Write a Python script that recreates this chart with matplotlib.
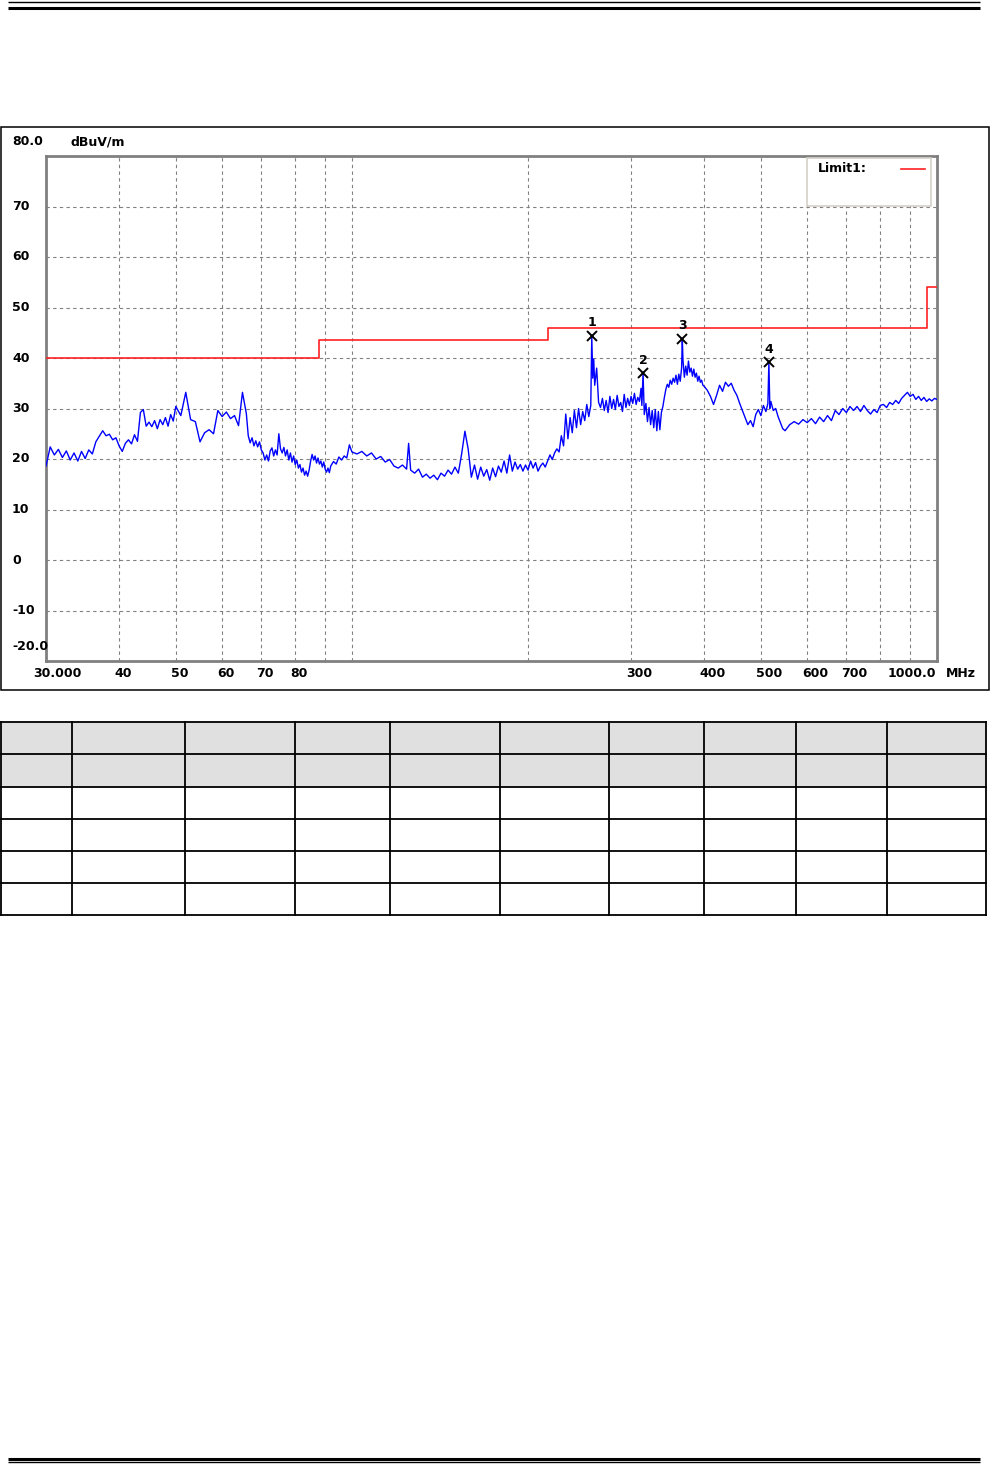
import matplotlib
matplotlib.use('Agg')
import matplotlib.pyplot as plt
import matplotlib.transforms as mtransforms
from matplotlib.patches import Rectangle
from matplotlib.ticker import NullLocator

sweep_30_50 = [(30.0, 18.6), (30.5, 22.4), (31.0, 20.8), (31.5, 21.9), (32.0, 20.3),
               (32.5, 21.6), (33.0, 19.8), (33.5, 21.2), (34.0, 19.6), (34.5, 21.5),
               (35.0, 20.1), (35.5, 21.8), (36.0, 21.0), (36.5, 23.4), (37.0, 24.5),
               (37.5, 25.6), (38.0, 24.6), (38.5, 24.9), (39.0, 23.8), (39.5, 24.2),
               (40.0, 22.6), (40.5, 21.5), (41.0, 23.1), (41.5, 23.8), (42.0, 23.0),
               (42.5, 24.8), (43.0, 23.5), (43.5, 29.2), (44.0, 29.8), (44.5, 26.5),
               (45.0, 27.3), (45.5, 26.4), (46.0, 27.6), (46.5, 26.0), (47.0, 27.8),
               (47.5, 26.8), (48.0, 28.2), (48.5, 26.5), (49.0, 28.8), (49.5, 27.5),
               (50.0, 30.4)]
sweep_50_100 = [(51, 28.6), (52, 33.2), (53, 27.8), (54, 27.4), (55, 23.4),
                (56, 25.2), (57, 25.8), (58, 25.0), (59, 29.6), (60, 28.4),
                (61, 29.3), (62, 28.0), (63, 28.6), (64, 26.6), (65, 33.2),
                (66, 29.0), (66.5, 24.6), (67, 23.2), (67.5, 24.2), (68, 22.6),
                (68.5, 23.6), (69, 22.4), (69.5, 23.4), (70, 21.8), (70.5, 21.2),
                (71, 19.8), (71.5, 20.8), (72, 19.6), (72.5, 21.6), (73, 22.2),
                (73.5, 20.6), (74, 21.8), (74.5, 20.8), (75, 25.0), (75.5, 22.0),
                (76, 21.2), (76.5, 22.3), (77, 20.6), (77.5, 21.8), (78, 19.8),
                (78.5, 21.2), (79, 19.4), (79.5, 20.6), (80, 18.9), (80.5, 19.8),
                (81, 18.2), (81.5, 18.9), (82, 17.4), (82.5, 18.2), (83, 16.8),
                (83.5, 17.6), (84, 16.6), (84.5, 17.8), (85, 19.6), (85.5, 20.9),
                (86, 19.8), (86.5, 20.6), (87, 19.2), (87.5, 20.2), (88, 19.0),
                (88.5, 19.6), (89, 18.4), (89.5, 19.4), (90, 18.0), (90.5, 17.4),
                (91, 18.2), (91.5, 17.3), (92, 18.6), (93, 19.5), (94, 19.0),
                (95, 20.4), (96, 19.8), (97, 20.6), (98, 20.2), (99, 22.8),
                (100, 21.4)]
sweep_100_200 = [(102, 21.0), (104, 21.5), (106, 20.6), (108, 21.2), (110, 20.0),
                 (112, 20.5), (114, 19.4), (116, 19.9), (118, 18.6), (120, 18.2),
                 (122, 18.8), (124, 18.0), (125, 23.1), (126, 17.8), (128, 17.2),
                 (130, 18.0), (132, 16.4), (134, 17.0), (136, 16.2), (138, 16.8),
                 (140, 15.9), (142, 17.2), (144, 16.6), (146, 17.8), (148, 17.0),
                 (150, 18.4), (152, 17.2), (154, 21.0), (156, 25.5), (158, 22.0),
                 (160, 16.4), (162, 18.8), (164, 16.0), (166, 18.4), (168, 16.6),
                 (170, 17.9), (172, 15.8), (174, 18.2), (176, 16.5), (178, 18.6),
                 (180, 17.4), (182, 19.6), (184, 17.2), (186, 20.8), (188, 17.6),
                 (190, 19.4), (192, 18.0), (194, 18.9), (196, 17.6), (198, 18.8),
                 (200, 17.8)]
sweep_200_400 = [(202, 19.6), (204, 18.2), (206, 19.3), (208, 17.6), (210, 18.6),
                 (212, 19.2), (214, 18.4), (216, 19.6), (218, 20.8), (220, 19.9),
                 (222, 21.2), (224, 22.0), (226, 21.4), (228, 24.6), (230, 22.6),
                 (232, 28.9), (234, 24.0), (236, 28.2), (238, 25.2), (240, 29.6),
                 (242, 26.2), (244, 30.0), (246, 26.8), (248, 29.4), (250, 27.6),
                 (252, 30.8), (254, 28.4), (256, 30.6), (257, 44.4), (258, 36.0),
                 (259, 39.8), (260, 34.6), (262, 38.0), (264, 31.2), (266, 30.2),
                 (268, 32.0), (270, 29.6), (272, 31.6), (274, 29.2), (276, 32.4),
                 (278, 30.0), (280, 31.8), (282, 29.8), (284, 32.6), (286, 30.4),
                 (288, 31.2), (290, 29.4), (292, 32.8), (294, 30.2), (296, 32.0),
                 (298, 30.6), (300, 32.4), (302, 31.0), (304, 33.0), (306, 30.8),
                 (308, 32.2), (310, 31.4), (312, 34.0), (313, 30.6), (314.5, 37.0),
                 (316, 28.8), (318, 31.0), (320, 27.4), (322, 30.2), (324, 26.8),
                 (326, 29.6), (328, 26.2), (330, 29.8), (332, 25.6), (334, 29.4),
                 (336, 25.8), (338, 29.2), (340, 30.4), (342, 32.2), (344, 33.8),
                 (346, 34.8), (348, 34.2), (350, 35.6), (352, 34.8), (354, 36.0),
                 (356, 35.2), (358, 36.6), (360, 34.8), (362, 36.8), (364, 35.4),
                 (366, 38.0), (367, 43.8), (368, 39.6), (370, 36.2), (372, 38.4),
                 (374, 36.6), (376, 39.4), (378, 37.2), (380, 38.0), (382, 36.4),
                 (384, 37.8), (386, 36.2), (388, 37.0), (390, 35.4), (392, 36.4),
                 (394, 35.2), (396, 35.6), (398, 34.6), (400, 34.4)]
sweep_400_1000 = [(405, 33.6), (410, 32.4), (415, 30.8), (420, 32.6), (425, 34.6),
                  (430, 33.4), (435, 35.2), (440, 34.4), (445, 35.0), (450, 33.6),
                  (455, 32.6), (460, 31.0), (465, 29.6), (470, 28.2), (475, 26.8),
                  (480, 27.6), (485, 26.4), (490, 28.8), (495, 29.8), (500, 28.6),
                  (505, 30.6), (510, 29.4), (514, 31.0), (516, 39.2), (518, 30.0),
                  (520, 31.4), (525, 29.6), (530, 30.0), (535, 28.4), (540, 27.2),
                  (545, 26.0), (550, 25.6), (560, 26.8), (570, 27.4), (580, 26.9),
                  (590, 27.8), (600, 27.2), (610, 28.0), (620, 27.0), (630, 28.3),
                  (640, 27.4), (650, 28.6), (660, 27.6), (670, 29.6), (680, 28.8),
                  (690, 30.0), (700, 29.2), (710, 30.4), (720, 29.6), (730, 30.4),
                  (740, 29.4), (750, 30.6), (760, 29.6), (770, 28.9), (780, 29.8),
                  (790, 29.2), (800, 30.6), (810, 30.8), (820, 30.2), (830, 31.2),
                  (840, 30.8), (850, 31.6), (860, 31.0), (870, 32.0), (880, 32.6),
                  (890, 33.2), (900, 32.4), (910, 32.8), (920, 31.8), (930, 32.4),
                  (940, 31.6), (950, 32.2), (960, 31.4), (970, 31.9), (980, 31.5),
                  (990, 32.0), (1000, 31.8)]

# limit line (step, post)
limit_freq = [30, 88, 216, 960, 1000]
limit_level = [40, 43.5, 46, 54, 54]

# peak markers
marker_id = ['1', '2', '3', '4']
marker_freq = [257, 314.5, 367, 516]
marker_level = [44.4, 37.0, 43.8, 39.2]

grid_freq = [40, 50, 60, 70, 80, 90, 100, 200, 300, 400, 500, 600, 700, 800, 900]
grid_level = [70, 60, 50, 40, 30, 20, 10, 0, -10]
xlabel_freq = [30, 40, 50, 60, 70, 80, 300, 400, 500, 600, 700, 1000]
xlabel_text = ['30.000', '40', '50', '60', '70', '80', '300', '400', '500', '600', '700', '1000.0']
ylabel_level = [80, 70, 60, 50, 40, 30, 20, 10, 0, -10, -20]
ylabel_text = ['80.0', '70', '60', '50', '40', '30', '20', '10', '0', '-10', '-20.0']

sweep = sweep_30_50 + sweep_50_100 + sweep_100_200 + sweep_200_400 + sweep_400_1000
freq = [p[0] for p in sweep]
level = [p[1] for p in sweep]

plt.rcParams['font.family'] = ['DejaVu Sans']
fs = 9

fig = plt.figure(figsize=(9.9, 14.64), dpi=100)

# page layer in pixel units
page = fig.add_axes([0, 0, 1, 1], zorder=0)
page.set_xlim(0, 990)
page.set_ylim(1464, 0)
page.axis('off')

page.plot([8, 980], [2, 2], color='black', lw=1.0, solid_capstyle='butt')
page.plot([8, 980], [7.5, 7.5], color='black', lw=2.2, solid_capstyle='butt')
page.plot([8, 980], [1458.8, 1458.8], color='black', lw=2.2, solid_capstyle='butt')
page.plot([8, 980], [1462.2, 1462.2], color='black', lw=1.0, solid_capstyle='butt')

page.add_patch(Rectangle((0.7, 127), 988.3, 563, fill=False, edgecolor='black',
                         lw=1.1, clip_on=False))

# empty results table
col_x = [1, 72, 185, 295, 390, 500, 609, 704, 796, 887, 986]
row_y = [722, 754, 787, 819, 851, 883, 915]
page.add_patch(Rectangle((col_x[0], row_y[0]), col_x[-1] - col_x[0], row_y[2] - row_y[0],
                         facecolor='#e0e0e0', edgecolor='none'))
for yy in row_y:
    page.plot([col_x[0], col_x[-1]], [yy, yy], color='black', lw=1.3, solid_capstyle='projecting')
for xx in col_x:
    page.plot([xx, xx], [row_y[0], row_y[-1]], color='black', lw=1.3, solid_capstyle='projecting')

# chart
ax = fig.add_axes([46 / 990, 1 - 661 / 1464, 891 / 990, 505 / 1464], zorder=1)
ax.set_xscale('log')
ax.set_xlim(30, 1000)
ax.set_ylim(-20, 80)
ax.set_xticks(grid_freq)
ax.set_yticks(grid_level)
ax.xaxis.set_minor_locator(NullLocator())
ax.tick_params(length=0, labelbottom=False, labelleft=False, which='both')
ax.grid(True, color='#808080', lw=0.8, linestyle=(0, (3, 3)))
for sp in ax.spines.values():
    sp.set_color('#808080')
    sp.set_linewidth(2.0)

ax.plot(freq, level, color='#0000ff', lw=1.0, zorder=3)
ax.step(limit_freq, limit_level, where='post', color='#ff2020', lw=1.2, zorder=4)
ax.plot(marker_freq, marker_level, 'x', color='black', ms=7, mew=1.4, zorder=5)
for mid, mf, ml in zip(marker_id, marker_freq, marker_level):
    ax.annotate(mid, (mf, ml), xytext=(0, 13), textcoords='offset pixels',
                ha='center', va='center', fontsize=fs, fontweight='bold', zorder=6)

# legend box
ax.add_patch(Rectangle((0.854, 0.901), 0.1393, 0.095, transform=ax.transAxes,
                       facecolor='white', edgecolor='#d4d0c8', lw=1.2, zorder=5))
ax.text(0.8664, 0.976, 'Limit1:', transform=ax.transAxes, fontsize=fs,
        fontweight='bold', va='center', ha='left', zorder=6)
ax.plot([0.9596, 0.9865], [0.974, 0.974], transform=ax.transAxes,
        color='#ff2020', lw=1.2, zorder=6)

# axis labels
ytrans = ax.get_yaxis_transform()
for lv, txt in zip(ylabel_level, ylabel_text):
    pos = lv
    if lv == 80:
        pos = 82.8
    elif lv == -20:
        pos = -17.2
    ax.text(-0.0382, pos, txt, transform=ytrans, fontsize=fs, fontweight='bold',
            ha='left', va='center', clip_on=False)
ax.text(0.027, 82.8, 'dBuV/m', transform=ytrans, fontsize=fs, fontweight='bold',
        ha='left', va='center', clip_on=False)

xtrans = ax.get_xaxis_transform()
for fq, txt in zip(xlabel_freq, xlabel_text):
    if txt == '30.000':
        tr = mtransforms.offset_copy(xtrans, fig=fig, x=-13, units='dots')
        ha = 'left'
    elif txt == '1000.0':
        tr = mtransforms.offset_copy(xtrans, fig=fig, x=-1, units='dots')
        ha = 'right'
    else:
        tr = mtransforms.offset_copy(xtrans, fig=fig, x=-5, units='dots')
        ha = 'left'
    ax.text(fq, -0.0238, txt, transform=tr, fontsize=fs, fontweight='bold',
            ha=ha, va='center', clip_on=False)
ax.text(1.0101, -0.0238, 'MHz', transform=ax.transAxes, fontsize=fs,
        fontweight='bold', ha='left', va='center', clip_on=False)

fig.savefig('out.png', dpi=100)
